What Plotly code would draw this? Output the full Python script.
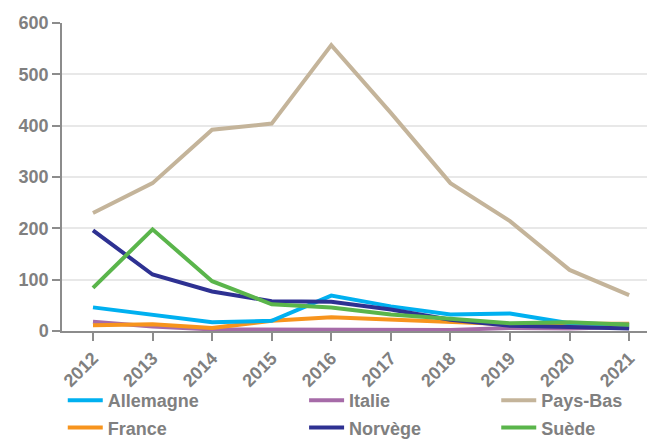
import plotly.graph_objects as go

years = ["2012", "2013", "2014", "2015", "2016", "2017", "2018", "2019", "2020", "2021"]
allemagne = [46, 31, 17, 20, 69, 48, 32, 34, 15, 12]
italie = [18, 9, 3, 3, 3, 2, 2, 6, 5, 8]
pays_bas = [230, 288, 392, 404, 557, 425, 288, 214, 119, 70]
france = [11, 13, 6, 20, 27, 22, 17, 13, 14, 14]
norvege = [196, 110, 77, 58, 57, 42, 22, 10, 8, 5]
suede = [84, 198, 97, 52, 46, 32, 24, 15, 17, 12]
y_ticks = [0, 100, 200, 300, 400, 500, 600]

series = [
    ("Allemagne", allemagne, "#00b0f0", "legend", 1),
    ("France", france, "#f7941d", "legend", 2),
    ("Italie", italie, "#a66ba8", "legend2", 1),
    ("Norvège", norvege, "#2e3192", "legend2", 2),
    ("Pays-Bas", pays_bas, "#c4b49a", "legend3", 1),
    ("Suède", suede, "#5ab54b", "legend3", 2),
]
draw_order = ["Pays-Bas", "Italie", "France", "Allemagne", "Norvège", "Suède"]

fig = go.Figure()
lookup = {s[0]: s for s in series}
for name in draw_order:
    n, vals, col, leg, rank = lookup[name]
    fig.add_trace(go.Scatter(x=years, y=vals, name=n, mode="lines",
                             line=dict(color=col, width=4), legend=leg,
                             legendrank=rank, legendgroup=n,
                             cliponaxis=False))

gray = "#808080"
legfont = dict(family="Liberation Sans, Arial", size=18, color=gray, weight="bold")
common = dict(orientation="v", font=legfont, bgcolor="rgba(0,0,0,0)",
              xanchor="left", yanchor="top", tracegroupgap=1,
              itemwidth=35, traceorder="grouped",
              xref="container", yref="container")
fig.update_layout(
    width=647, height=439,
    margin=dict(l=62, r=0, t=23, b=108, autoexpand=False),
    plot_bgcolor="white", paper_bgcolor="white",
    font=dict(family="Liberation Sans, Arial", color=gray, size=18, weight="bold"),
    showlegend=True,
    legend=dict(x=0.097, y=0.130, **common),
    legend2=dict(x=0.470, y=0.130, **common),
    legend3=dict(x=0.767, y=0.130, **common),
    xaxis=dict(type="category", range=[-0.52, 9.3], showgrid=False,
               showline=True, linecolor="#8c8c8c", linewidth=1.5,
               ticks="outside", ticklen=8, tickcolor="#8c8c8c", tickwidth=1.5,
               tickangle=-45, automargin=False,
               tickfont=dict(size=18, color=gray, weight="bold")),
    yaxis=dict(range=[0, 600], tickvals=y_ticks, showgrid=True,
               gridcolor="#e8e8e8", gridwidth=1.5, zeroline=False,
               showline=True, linecolor="#8c8c8c", linewidth=1.5,
               ticks="outside", ticklen=8, tickcolor="#8c8c8c", tickwidth=1.5,
               automargin=False,
               tickfont=dict(size=18, color=gray, weight="bold")),
)
fig.write_html("out.html", config={"displayModeBar": False},
               post_script="document.body.style.margin='0';document.body.style.overflow='hidden';")
